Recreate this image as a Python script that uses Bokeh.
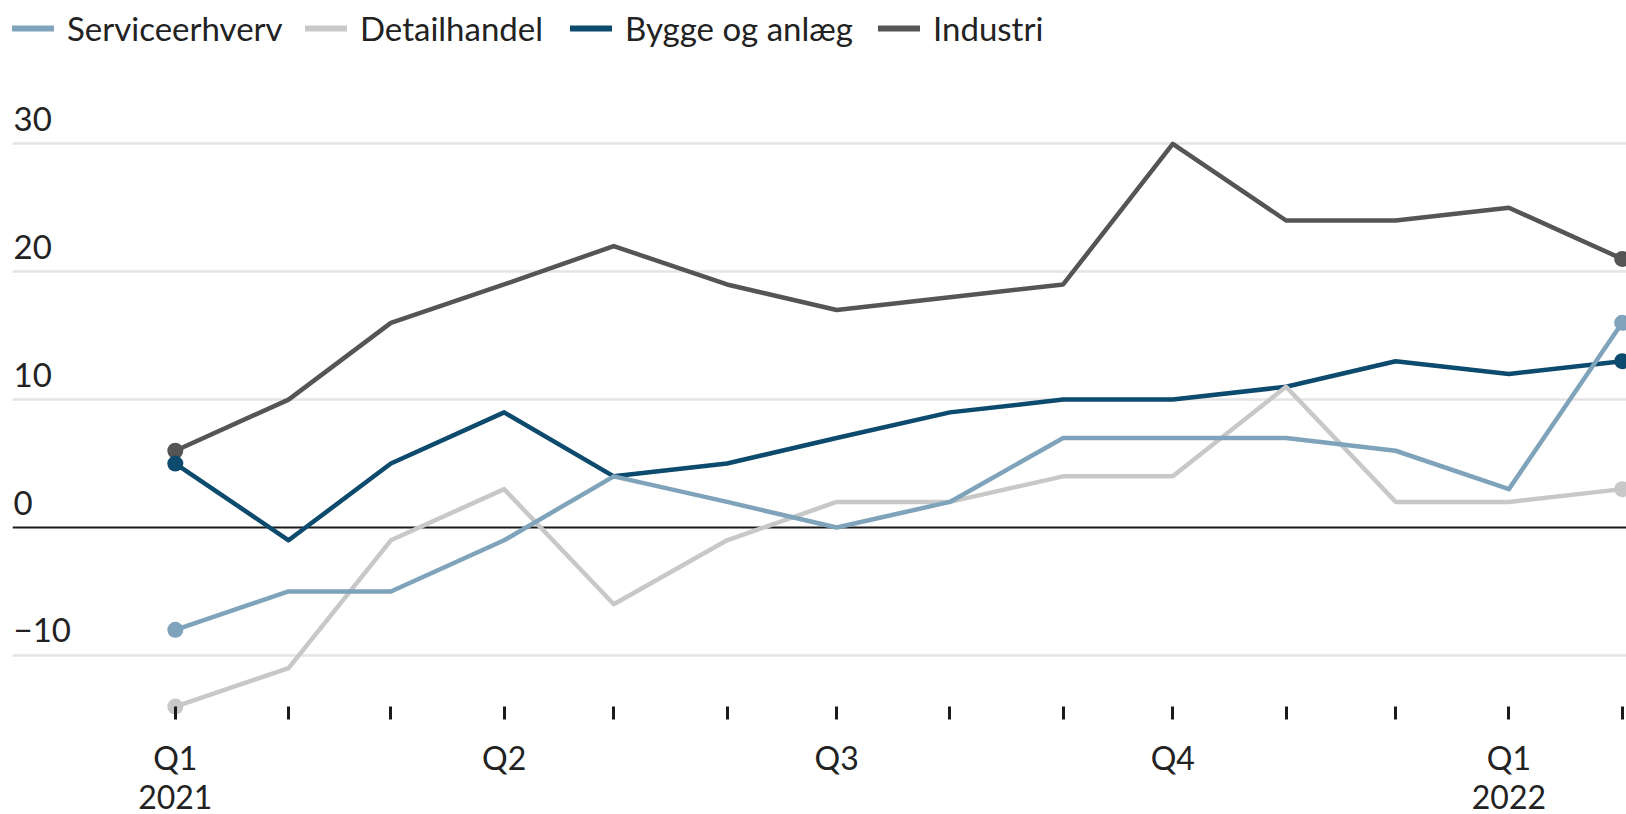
import pandas as pd
from datetime import timedelta
from bokeh.plotting import figure
from bokeh.models import (Range1d, FixedTicker, CustomJSTickFormatter, Legend, LegendItem,
                          Span, Grid, ColumnDataSource)
from bokeh.core.properties import value
from bokeh.embed import file_html
from bokeh.resources import INLINE

# ---- data ----
months = ["2021-01-01", "2021-02-01", "2021-03-01", "2021-04-01", "2021-05-01", "2021-06-01",
          "2021-07-01", "2021-08-01", "2021-09-01", "2021-10-01", "2021-11-01", "2021-12-01",
          "2022-01-01", "2022-02-01"]
serviceerhverv = [-8, -5, -5, -1, 4, 2, 0, 2, 7, 7, 7, 6, 3, 16]
detailhandel = [-14, -11, -1, 3, -6, -1, 2, 2, 4, 4, 11, 2, 2, 3]
bygge = [5, -1, 5, 9, 4, 5, 7, 9, 10, 10, 11, 13, 12, 13]
industri = [6, 10, 16, 19, 22, 19, 17, 18, 19, 30, 24, 24, 25, 21]
series_names = ["Serviceerhverv", "Detailhandel", "Bygge og anlæg", "Industri"]
series_colors = ["#7fa3ba", "#c8c8c8", "#0c4a6e", "#555555"]
x_tick_labels = ["Q1\n2021", "", "", "Q2", "", "", "Q3", "", "", "Q4", "", "", "Q1\n2022", ""]
y_ticks = [-10, 0, 10, 20, 30]
y_tick_labels = ["\u221210", "0", "10", "20", "30"]

dates = pd.to_datetime(months)
x_start = dates[0] - timedelta(days=44.56)
x_end = dates[-1] + timedelta(days=1.18)
tick_ms = [float(d.value // 10**6) for d in dates]

FONT = "Lato"
TXT = "#222222"

p = figure(frame_width=1614, frame_height=719, x_axis_type="datetime", y_axis_location=None,
           output_backend="svg", toolbar_location=None,
           min_border_left=12, min_border_right=0, min_border_top=0, min_border_bottom=0,
           x_range=Range1d(x_start, x_end), y_range=Range1d(-15.01, 41.2))
p.outline_line_color = None
p.background_fill_color = "white"
p.border_fill_color = "white"
p.xgrid.grid_line_color = None
p.ygrid.grid_line_color = None

# grid lines
p.add_layout(Grid(dimension=1, ticker=FixedTicker(ticks=[t for t in y_ticks if t != 0]),
                  grid_line_color="#e4e4e4", grid_line_width=2.5))
p.add_layout(Span(location=0, dimension="width", line_color="#1a1a1a", line_width=2,
                  level="underlay"))

# x axis
ax = p.xaxis[0]
ax.ticker = FixedTicker(ticks=tick_ms)
ax.formatter = CustomJSTickFormatter(args=dict(tick_vals=tick_ms, tick_texts=x_tick_labels), code="""
    const i = tick_vals.indexOf(tick);
    return i >= 0 ? tick_texts[i] : "";
""")
ax.axis_line_color = None
ax.major_tick_in = 13
ax.major_tick_out = 0
ax.major_tick_line_width = 3
ax.major_tick_line_color = "#1a1a1a"
ax.minor_tick_line_color = None
ax.major_label_text_font = FONT
ax.major_label_text_font_size = "32px"
ax.major_label_text_color = TXT
ax.major_label_text_line_height = 1.02
ax.major_label_standoff = 18

# y labels
p.text(x=[x_start] * len(y_ticks), y=y_ticks, text=y_tick_labels, x_offset=1, y_offset=-25,
       text_baseline="middle", text_align="left", text_font=value(FONT),
       text_font_size="33px", text_color=TXT)

# series (drawn in reverse order so Serviceerhverv is on top)
all_vals = [serviceerhverv, detailhandel, bygge, industri]
for idx in [3, 2, 1, 0]:
    src = ColumnDataSource(dict(x=dates, y=all_vals[idx]))
    p.line("x", "y", source=src, line_color=series_colors[idx], line_width=4.5,
           line_join="round", line_cap="round")
    ends = ColumnDataSource(dict(x=[dates[0], dates[-1]], y=[all_vals[idx][0], all_vals[idx][-1]]))
    p.scatter("x", "y", source=ends, size=16, fill_color=series_colors[idx], line_color=None)

# legends (one per item, placed individually)
legend_x = [0, 293, 558, 866]
for idx, name in enumerate(series_names):
    dummy = p.line(x=[dates[0]], y=[1000], line_color=series_colors[idx], line_width=6,
                   line_cap="round")
    lg = Legend(items=[LegendItem(label=name, renderers=[dummy])], location=(legend_x[idx], 671),
                orientation="horizontal", padding=0, margin=0, border_line_color=None,
                background_fill_alpha=0, glyph_width=42, glyph_height=40, label_height=40,
                label_standoff=13, label_text_font=FONT, label_text_font_size="33px",
                label_text_color=TXT, label_text_baseline="middle")
    p.add_layout(lg)

open("out.html", "w").write(file_html(p, INLINE))
